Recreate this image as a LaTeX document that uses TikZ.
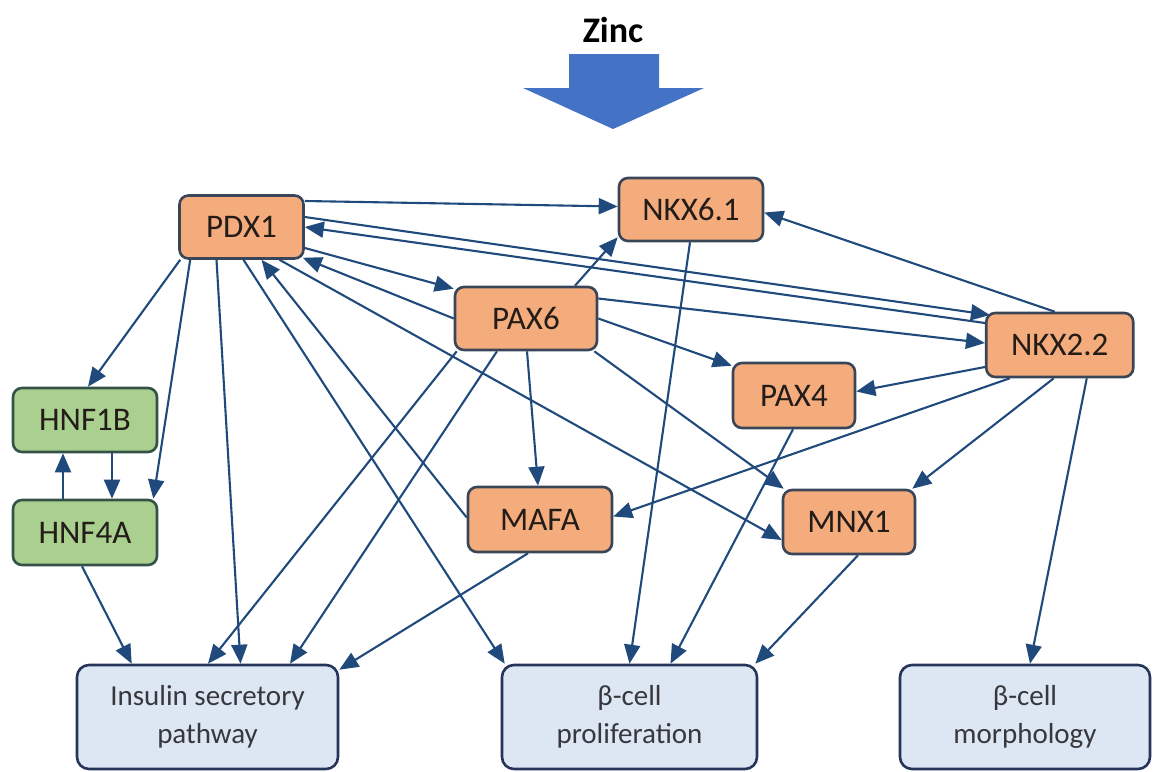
\documentclass[tikz,border=0pt]{standalone}
\usepackage{fontspec}
\setmainfont{Carlito}
\usetikzlibrary{arrows.meta,backgrounds}
\definecolor{edgec}{RGB}{32,74,124}
\definecolor{orfill}{RGB}{244,172,124}
\definecolor{orline}{RGB}{58,70,88}
\definecolor{grfill}{RGB}{169,208,142}
\definecolor{grline}{RGB}{52,82,70}
\definecolor{blfill}{RGB}{221,231,244}
\definecolor{blline}{RGB}{38,52,90}
\definecolor{zincblue}{RGB}{68,114,196}
\definecolor{labc}{RGB}{35,28,24}
\definecolor{outc}{RGB}{55,55,60}
\begin{document}
\begin{tikzpicture}[x=1pt,y=-1pt,
  tfbox/.style={draw=orline, fill=orfill, line width=2.6pt, rounded corners=9pt,
    inner sep=0pt, font=\fontsize{33}{36}\selectfont, text=labc},
  hnfbox/.style={tfbox, draw=grline, fill=grfill},
  outbox/.style={draw=blline, fill=blfill, line width=2.6pt, rounded corners=12pt,
    inner sep=0pt, align=center, font=\fontsize{29}{38}\selectfont, text=outc},
  edge/.style={draw=edgec, line width=2.1pt, -{Triangle[length=19pt,width=16pt]}}
]
\useasboundingbox (0,0) rectangle (1153,771);

% Zinc and big arrow
\node[anchor=base, font=\bfseries\fontsize{36}{40}\selectfont, text=black] (zinc) at (613,42) {Zinc};
\fill[zincblue] (569,54) -- (659,54) -- (659,88) -- (704,88) -- (613,129) -- (523,88) -- (569,88) -- cycle;

% nodes
\node[tfbox, minimum width=124pt, minimum height=63pt] (PDX1) at (241.5,227) {PDX1};
\node[tfbox, minimum width=144pt, minimum height=63pt] (NKX61) at (691,209.5) {NKX6.1};
\node[tfbox, minimum width=142pt, minimum height=63pt] (PAX6) at (526,318.5) {PAX6};
\node[tfbox, minimum width=147pt, minimum height=64pt] (NKX22) at (1059.75,345) {NKX2.2};
\node[tfbox, minimum width=122pt, minimum height=65pt] (PAX4) at (794,395.5) {PAX4};
\node[tfbox, minimum width=144pt, minimum height=65pt] (MAFA) at (540,519.5) {MAFA};
\node[tfbox, minimum width=132pt, minimum height=64pt] (MNX1) at (849,522) {MNX1};
\node[hnfbox, minimum width=144pt, minimum height=64pt] (HNF1B) at (85,420) {HNF1B};
\node[hnfbox, minimum width=144pt, minimum height=65pt] (HNF4A) at (85,532.5) {HNF4A};

\node[outbox, minimum width=261pt, minimum height=104pt] (Ins) at (207.5,717) {Insulin secretory\\pathway};
\node[outbox, minimum width=255pt, minimum height=104pt] (Prolif) at (629.5,717) {β-cell\\proliferation};
\node[outbox, minimum width=250pt, minimum height=104pt] (Morph) at (1025,717) {β-cell\\morphology};

\begin{scope}[on background layer]
\fill[white] (0,0) rectangle (1153,771);
% PDX1 edges
\draw[edge] ([yshift=26pt]PDX1.east) -- ([yshift=3pt]NKX61.west);
\draw[edge] ([yshift=10pt]PDX1.east) -- ([xshift=5pt,yshift=30pt]NKX22.west);
\draw[edge] ([yshift=22pt]NKX22.west) -- (PDX1.east);
\draw[edge] ([yshift=-21pt]PDX1.east) -- ([yshift=-3pt]PAX6.north west);
\draw[edge] (PAX6.west) -- ([xshift=-2pt,yshift=2pt]PDX1.south east);
\draw[edge] ([yshift=2pt]MAFA.west) -- ([xshift=20pt]PDX1.south);
\draw[edge] ([xshift=2pt]PDX1.south) -- ([xshift=4pt]Prolif.north west);
\draw[edge] ([xshift=38pt]PDX1.south) -- ([yshift=-18pt]MNX1.west);
\draw[edge] ([xshift=2pt]PDX1.south west) -- ([xshift=3pt]HNF1B.north);
\draw[edge] ([xshift=12pt]PDX1.south west) -- ([xshift=-5pt]HNF4A.north east);
\draw[edge] ([xshift=-25pt]PDX1.south) -- ([xshift=33pt]Ins.north);
% HNF edges
\draw[edge] ([xshift=-22pt]HNF4A.north) -- ([xshift=-22pt]HNF1B.south);
\draw[edge] ([xshift=27pt]HNF1B.south) -- ([xshift=27pt]HNF4A.north);
\draw[edge] ([xshift=-3pt]HNF4A.south) -- ([xshift=56pt]Ins.north west);
% PAX6 edges
\draw[edge] ([xshift=3pt]PAX6.south west) -- ([xshift=0.5pt]Ins.north);
\draw[edge] ([xshift=-29pt]PAX6.south) -- ([xshift=82.5pt]Ins.north);
\draw[edge] ([xshift=49pt]PAX6.north) -- ([yshift=5pt]NKX61.south west);
\draw[edge] ([yshift=20pt]PAX6.east) -- ([yshift=2pt]NKX22.west);
\draw[edge] (PAX6.east) -- ([yshift=-4pt]PAX4.north west);
\draw[edge] ([xshift=1pt]PAX6.south) -- ([xshift=-2pt]MAFA.north);
\draw[edge] ([xshift=-4pt]PAX6.south east) -- ([xshift=2pt]MNX1.north west);
% MAFA
\draw[edge] ([xshift=-12pt]MAFA.south) -- ([yshift=-6pt]Ins.north east);
% NKX2.2 edges
\draw[edge] ([xshift=-5pt]NKX22.north) -- ([yshift=-3pt]NKX61.east);
\draw[edge] ([yshift=-22pt]NKX22.west) -- ([yshift=4pt]PAX4.east);
\draw[edge] ([xshift=-50pt]NKX22.south) -- ([yshift=3pt]MAFA.east);
\draw[edge] ([xshift=-6pt]NKX22.south) -- ([xshift=-4pt]MNX1.north east);
\draw[edge] ([xshift=27pt]NKX22.south) -- ([xshift=5pt]Morph.north);
% to proliferation
\draw[edge] ([xshift=-1pt]NKX61.south) -- (Prolif.north);
\draw[edge] ([xshift=-1pt]PAX4.south) -- ([xshift=41pt]Prolif.north);
\draw[edge] ([xshift=9pt]MNX1.south) -- ([xshift=-3pt]Prolif.north east);
\end{scope}
\end{tikzpicture}
\end{document}
